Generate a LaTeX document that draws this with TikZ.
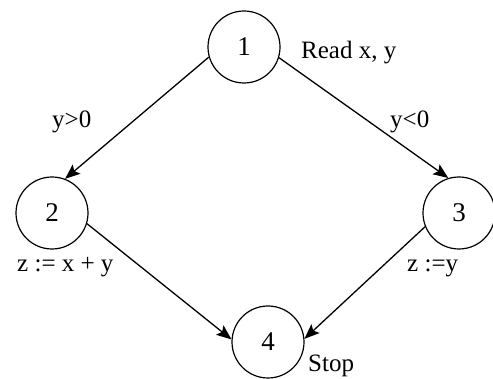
\documentclass[tikz,border=0pt]{standalone}
\usepackage{fontspec}
\setmainfont{Liberation Serif}
\usetikzlibrary{arrows.meta}
\begin{document}
\begin{tikzpicture}[x=1pt,y=-1pt,
  state/.style={circle,draw,line width=1.2pt,minimum size=72pt,inner sep=0pt,font=\fontsize{27}{29}\selectfont},
  lbl/.style={anchor=base west,inner sep=0pt,font=\fontsize{25}{28}\selectfont},
  edge/.style={line width=1.3pt,-{Stealth[length=15pt,width=12pt,inset=3pt]}}]
\useasboundingbox (0,0) rectangle (493,379);
\node[state] (n1) at (244,47) {1};
\node[state] (n2) at (52,213) {2};
\node[state] (n3) at (459,213) {3};
\node[state] (n4) at (268,342) {4};
\node[lbl] (t1) at (301,59) {Read x, y};
\node[lbl] (t2) at (52,128) {y>0};
\node[lbl] (t3) at (390,128) {y<0};
\node[lbl] (t4) at (17,272) {z := x + y};
\node[lbl] (t5) at (407,272) {z :=y};
\node[lbl] (t6) at (308,372) {Stop};
\draw[edge] (n1.196) -- (n2.69);
\draw[edge] (n1.-17) -- (n3.107);
\draw[edge] (n2.-17) -- (n4.176);
\draw[edge] (n3.-158) -- (n4.5);
\end{tikzpicture}
\end{document}
